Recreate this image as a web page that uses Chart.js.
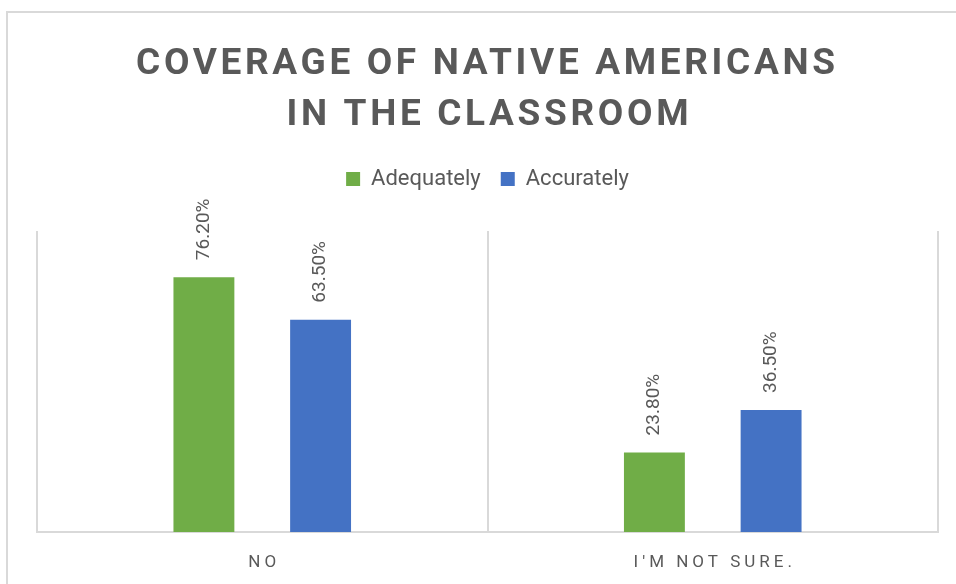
<!DOCTYPE html>
<html>
<head>
<meta charset="utf-8">
<title>Coverage of Native Americans in the Classroom</title>
<script src="https://cdn.jsdelivr.net/npm/chart.js@4.4.1/dist/chart.umd.min.js"></script>
<style>
  html, body { margin: 0; padding: 0; background: #fff; }
  canvas { display: block; }
</style>
</head>
<body>
<canvas id="coverageChart" width="956" height="584"></canvas>
<script>
const titleLines = ['COVERAGE OF NATIVE AMERICANS', 'IN THE CLASSROOM'];
const categories = ['NO', "I'M NOT SURE."];
const seriesNames = ['Adequately', 'Accurately'];
const adequately = [76.2, 23.8];
const accurately = [63.5, 36.5];

const textGray = '#595959';
const lineGray = '#d9d9d9';
const fontFamily = 'Roboto, "Open Sans", sans-serif';

// draw text with letter spacing, centred on cx
function spacedText(ctx, text, cx, y, spacing) {
  ctx.letterSpacing = '0px';
  const w = ctx.measureText(text).width + spacing * (text.length - 1);
  ctx.letterSpacing = spacing + 'px';
  ctx.textAlign = 'left';
  ctx.fillText(text, cx - w / 2, y);
  ctx.letterSpacing = '0px';
}

// outer frame (only top/left edges are visible in the crop)
const framePlugin = {
  id: 'frame',
  beforeDraw(chart) {
    const ctx = chart.ctx;
    ctx.save();
    ctx.strokeStyle = lineGray;
    ctx.lineWidth = 2;
    ctx.beginPath();
    ctx.moveTo(7, chart.height);
    ctx.lineTo(7, 12);
    ctx.lineTo(chart.width, 12);
    ctx.stroke();
    ctx.restore();
  }
};

// extra room between legend and plot area
const legendGap = {
  id: 'legendGap',
  beforeLayout(chart) {
    const legend = chart.legend;
    if (legend && !legend._gapFit) {
      const fit = legend.fit;
      legend.fit = function () {
        fit.call(this);
        this.height += 31;
      };
      legend._gapFit = true;
    }
  }
};

const textPlugin = {
  id: 'texts',
  afterDraw(chart) {
    const ctx = chart.ctx;
    const area = chart.chartArea;
    const cx = (area.left + area.right) / 2;
    ctx.save();
    ctx.fillStyle = textGray;
    ctx.textBaseline = 'alphabetic';

    // title
    ctx.font = 'bold 37px ' + fontFamily;
    spacedText(ctx, titleLines[0], cx - 2, 74, 3.65);
    spacedText(ctx, titleLines[1], cx, 125, 3.65);

    // category labels
    ctx.font = '17px ' + fontFamily;
    const xScale = chart.scales.x;
    categories.forEach((c, i) => {
      spacedText(ctx, c, xScale.getPixelForTick(i), 567, 4);
    });

    // rotated data labels
    ctx.font = '19px ' + fontFamily;
    ctx.textAlign = 'left';
    ctx.textBaseline = 'middle';
    chart.data.datasets.forEach((ds, di) => {
      const meta = chart.getDatasetMeta(di);
      meta.data.forEach((bar, i) => {
        ctx.save();
        ctx.translate(bar.x, bar.y - 17);
        ctx.rotate(-Math.PI / 2);
        ctx.fillText(ds.data[i].toFixed(2) + '%', 0, 0);
        ctx.restore();
      });
    });
    ctx.restore();
  }
};

const ctx = document.getElementById('coverageChart').getContext('2d');

new Chart(ctx, {
  type: 'bar',
  data: {
    labels: categories,
    datasets: [
      {
        label: seriesNames[0],
        data: adequately,
        backgroundColor: '#70ad47'
      },
      {
        label: seriesNames[1],
        data: accurately,
        backgroundColor: '#4472c4'
      }
    ]
  },
  options: {
    responsive: false,
    animation: false,
    categoryPercentage: 0.518,
    barPercentage: 0.522,
    layout: {
      padding: { top: 148, left: 37, right: 18, bottom: 52 }
    },
    plugins: {
      legend: {
        position: 'top',
        labels: {
          boxWidth: 14,
          boxHeight: 14,
          padding: 20,
          color: textGray,
          font: { family: fontFamily, size: 22 }
        }
      },
      tooltip: { enabled: false }
    },
    scales: {
      x: {
        grid: {
          color: lineGray,
          lineWidth: 2,
          drawTicks: false
        },
        border: { color: lineGray, width: 2 },
        ticks: { display: false }
      },
      y: {
        display: false,
        min: 0,
        max: 90
      }
    }
  },
  plugins: [framePlugin, legendGap, textPlugin]
});
</script>
</body>
</html>
